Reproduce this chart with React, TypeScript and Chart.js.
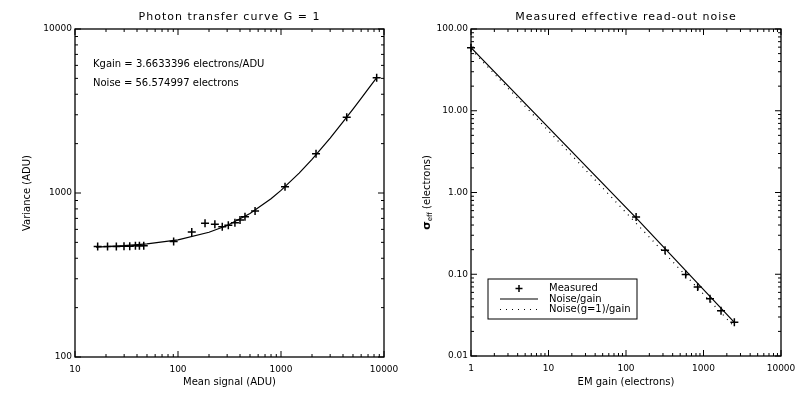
import React, { useEffect, useRef } from "react";
import { Chart, registerables } from "chart.js";

Chart.register(...registerables);

// ---------- Left panel data ----------
const ptcTitle = "Photon transfer curve G = 1";
const ptcXLabel = "Mean signal (ADU)";
const ptcYLabel = "Variance (ADU)";
const ptcXTicks = [10, 100, 1000, 10000];
const ptcXTickLabels = ["10", "100", "1000", "10000"];
const ptcYTicks = [100, 1000, 10000];
const ptcYTickLabels = ["100", "1000", "10000"];
const ptcMean = [16.6, 20.7, 25.2, 29.9, 34, 38.6, 42.2, 46.5, 90.7, 136, 183, 228, 269, 308, 357, 400, 447, 560, 1094, 2188, 4345, 8490];
const ptcVar = [471, 471, 472, 473, 474, 477, 477, 477, 507, 578, 653, 644, 623, 635, 659, 684, 717, 777, 1093, 1738, 2893, 5049];
const fitMean = [16, 20, 30, 50, 100, 200, 300, 500, 800, 1000, 1500, 2000, 3000, 4000, 5000, 6000, 7000, 8500];
const fitVar = [468, 471, 477, 489, 518, 576, 634, 750, 922, 1037, 1322, 1605, 2162, 2710, 3248, 3776, 4293, 5051];
const ptcNotes = ["Kgain = 3.6633396 electrons/ADU", "Noise = 56.574997 electrons"];

// ---------- Right panel data ----------
const rnTitle = "Measured effective read-out noise";
const rnXLabel = "EM gain (electrons)";
const rnXTicks = [1, 10, 100, 1000, 10000];
const rnXTickLabels = ["1", "10", "100", "1000", "10000"];
const rnYTicks = [0.01, 0.1, 1, 10, 100];
const rnYTickLabels = ["0.01", "0.10", "1.00", "10.00", "100.00"];
const gainMeasured = [1, 135, 319, 589, 841, 1213, 1683, 2500];
const sigmaMeasured = [59, 0.5, 0.196, 0.099, 0.07, 0.05, 0.0357, 0.0258];
const gainLine = [1, 135, 2500];
const sigmaLine = [59, 0.49, 0.0258];
const gainDotted = [1, 2500];
const sigmaDotted = [56.6, 0.0228];
const legendLabels = ["Measured", "Noise/gain", "Noise(g=1)/gain"];

const FONT = "'DejaVu Sans', sans-serif";

const pts = (xs: number[], ys: number[]) => xs.map((x, i) => ({ x, y: ys[i] }));

function line(ctx: CanvasRenderingContext2D, x1: number, y1: number, x2: number, y2: number) {
  ctx.beginPath();
  ctx.moveTo(x1, y1);
  ctx.lineTo(x2, y2);
  ctx.stroke();
}

function framePlugin(extra: (chart: any) => void) {
  return {
    id: "frame",
    afterDraw(chart: any) {
      const ctx: CanvasRenderingContext2D = chart.ctx;
      const a = chart.chartArea;
      const xs = chart.scales.x;
      const ys = chart.scales.y;
      ctx.save();
      ctx.strokeStyle = "#000";
      ctx.lineWidth = 1.3;
      ctx.strokeRect(a.left, a.top, a.right - a.left, a.bottom - a.top);
      ctx.lineWidth = 1;
      const ticks = (scale: any, horiz: boolean) => {
        const lo = Math.floor(Math.log10(scale.min));
        const hi = Math.ceil(Math.log10(scale.max));
        for (let d = lo; d <= hi; d++) {
          for (let k = 1; k <= 9; k++) {
            const v = k * Math.pow(10, d);
            if (v < scale.min * 0.999 || v > scale.max * 1.001) continue;
            const p = scale.getPixelForValue(v);
            const len = k === 1 ? 6 : 3;
            if (horiz) {
              line(ctx, p, a.bottom, p, a.bottom - len);
              line(ctx, p, a.top, p, a.top + len);
            } else {
              line(ctx, a.left, p, a.left + len, p);
              line(ctx, a.right, p, a.right - len, p);
            }
          }
        }
      };
      ticks(xs, true);
      ticks(ys, false);
      extra(chart);
      ctx.restore();
    },
  };
}

function baseScales(xMin: number, xMax: number, yMin: number, yMax: number, xT: number[], xL: string[], yT: number[], yL: string[], yWidth: number, xHeight: number) {
  return {
    x: {
      type: "logarithmic",
      min: xMin,
      max: xMax,
      grid: { display: false, drawTicks: false, tickLength: 0 },
      border: { display: false },
      ticks: {
        autoSkip: false,
        maxRotation: 0,
        padding: 7,
        color: "#000",
        font: { family: FONT, size: 9 },
        callback: (v: number) => {
          const i = xT.findIndex((t) => Math.abs(t - v) / t < 1e-6);
          return i >= 0 ? xL[i] : "";
        },
      },
      afterBuildTicks: (s: any) => {
        s.ticks = xT.map((v) => ({ value: v }));
      },
      afterFit: (s: any) => {
        s.height = xHeight;
        s.paddingLeft = 0;
        s.paddingRight = 0;
      },
    },
    y: {
      type: "logarithmic",
      min: yMin,
      max: yMax,
      grid: { display: false, drawTicks: false, tickLength: 0 },
      border: { display: false },
      ticks: {
        autoSkip: false,
        padding: 3,
        color: "#000",
        font: { family: FONT, size: 9 },
        callback: (v: number) => {
          const i = yT.findIndex((t) => Math.abs(t - v) / t < 1e-6);
          return i >= 0 ? yL[i] : "";
        },
      },
      afterBuildTicks: (s: any) => {
        s.ticks = yT.map((v) => ({ value: v }));
      },
      afterFit: (s: any) => {
        s.width = yWidth;
        s.paddingTop = 0;
        s.paddingBottom = 0;
      },
    },
  };
}

function drawTexts(ctx: CanvasRenderingContext2D, a: any, title: string, xLabel: string) {
  ctx.fillStyle = "#000";
  ctx.textAlign = "center";
  ctx.textBaseline = "middle";
  ctx.font = `11px ${FONT}`;
  (ctx as any).letterSpacing = "1px";
  ctx.fillText(title, (a.left + a.right) / 2, 17);
  (ctx as any).letterSpacing = "0px";
  ctx.font = `10px ${FONT}`;
  ctx.fillText(xLabel, (a.left + a.right) / 2, 382);
}

function LeftChart() {
  const ref = useRef<HTMLCanvasElement>(null);
  useEffect(() => {
    const chart = new Chart(ref.current!, {
      type: "scatter",
      data: {
        datasets: [
          {
            label: "Measured",
            data: pts(ptcMean, ptcVar),
            showLine: false,
            pointStyle: "cross",
            pointRadius: 4,
            pointBorderWidth: 1.5,
            borderColor: "#000",
            backgroundColor: "#000",
            clip: false,
          } as any,
          {
            label: "Fit",
            data: pts(fitMean, fitVar),
            showLine: true,
            pointRadius: 0,
            borderWidth: 1.2,
            borderColor: "#000",
            tension: 0,
          } as any,
        ],
      },
      options: {
        animation: false,
        responsive: false,
        devicePixelRatio: 1,
        layout: { padding: { left: 0, right: 18, top: 29, bottom: 0 } },
        plugins: { legend: { display: false }, tooltip: { enabled: false } },
        scales: baseScales(10, 10000, 100, 10000, ptcXTicks, ptcXTickLabels, ptcYTicks, ptcYTickLabels, 75, 40) as any,
      },
      plugins: [
        framePlugin((c: any) => {
          const ctx: CanvasRenderingContext2D = c.ctx;
          const a = c.chartArea;
          drawTexts(ctx, a, ptcTitle, ptcXLabel);
          ctx.save();
          ctx.translate(27, (a.top + a.bottom) / 2);
          ctx.rotate(-Math.PI / 2);
          ctx.fillText(ptcYLabel, 0, 0);
          ctx.restore();
          ctx.textAlign = "left";
          ctx.font = `10px ${FONT}`;
          ctx.fillText(ptcNotes[0], 93, 64);
          ctx.fillText(ptcNotes[1], 93, 83);
        }),
      ],
    });
    return () => chart.destroy();
  }, []);
  return <canvas ref={ref} width={402} height={397} style={{ position: "absolute", left: 0, top: 0 }} />;
}

function RightChart() {
  const ref = useRef<HTMLCanvasElement>(null);
  useEffect(() => {
    const chart = new Chart(ref.current!, {
      type: "scatter",
      data: {
        datasets: [
          {
            label: legendLabels[0],
            data: pts(gainMeasured, sigmaMeasured),
            showLine: false,
            pointStyle: "cross",
            pointRadius: 4,
            pointBorderWidth: 1.5,
            borderColor: "#000",
            backgroundColor: "#000",
            clip: false,
          } as any,
          {
            label: legendLabels[1],
            data: pts(gainLine, sigmaLine),
            showLine: true,
            pointRadius: 0,
            borderWidth: 1.2,
            borderColor: "#000",
          } as any,
          {
            label: legendLabels[2],
            data: pts(gainDotted, sigmaDotted),
            showLine: true,
            pointRadius: 0,
            borderWidth: 1.2,
            borderColor: "#000",
            borderDash: [1, 5],
          } as any,
        ],
      },
      options: {
        animation: false,
        responsive: false,
        devicePixelRatio: 1,
        layout: { padding: { left: 0, right: 23, top: 29, bottom: 0 } },
        plugins: { legend: { display: false }, tooltip: { enabled: false } },
        scales: baseScales(1, 10000, 0.01, 100, rnXTicks, rnXTickLabels, rnYTicks, rnYTickLabels, 69, 41) as any,
      },
      plugins: [
        framePlugin((c: any) => {
          const ctx: CanvasRenderingContext2D = c.ctx;
          const a = c.chartArea;
          drawTexts(ctx, a, rnTitle, rnXLabel);
          // y label with subscript
          ctx.save();
          ctx.translate(25, (a.top + a.bottom) / 2);
          ctx.rotate(-Math.PI / 2);
          ctx.textAlign = "left";
          ctx.textBaseline = "middle";
          const big = `bold 11px ${FONT}`;
          const small = `7px ${FONT}`;
          const norm = `10px ${FONT}`;
          ctx.font = big;
          const w1 = ctx.measureText("σ").width;
          ctx.font = small;
          const w2 = ctx.measureText("eff").width;
          ctx.font = norm;
          const w3 = ctx.measureText(" (electrons)").width;
          let x0 = -(w1 + w2 + w3) / 2;
          ctx.font = big;
          ctx.fillText("σ", x0, 0);
          x0 += w1;
          ctx.font = small;
          ctx.fillText("eff", x0, 3);
          x0 += w2;
          ctx.font = norm;
          ctx.fillText(" (electrons)", x0, 0);
          ctx.restore();
          // legend box
          const bx = 488 - 402, by = 279, bw = 149, bh = 40;
          ctx.lineWidth = 1;
          ctx.strokeStyle = "#000";
          ctx.strokeRect(bx, by, bw, bh);
          const rows = [288.5, 299, 309.5];
          const sx1 = bx + 12, sx2 = bx + 50, tx = bx + 61;
          ctx.lineWidth = 1.5;
          const cx = (sx1 + sx2) / 2;
          line(ctx, cx - 3.5, rows[0], cx + 3.5, rows[0]);
          line(ctx, cx, rows[0] - 3.5, cx, rows[0] + 3.5);
          ctx.lineWidth = 1.2;
          line(ctx, sx1, rows[1], sx2, rows[1]);
          ctx.setLineDash([1, 5]);
          line(ctx, sx1, rows[2], sx2, rows[2]);
          ctx.setLineDash([]);
          ctx.fillStyle = "#000";
          ctx.textAlign = "left";
          ctx.textBaseline = "middle";
          ctx.font = `10px ${FONT}`;
          const ds = c.data.datasets;
          for (let i = 0; i < 3; i++) ctx.fillText(ds[i].label, tx, rows[i]);
        }),
      ],
    });
    return () => chart.destroy();
  }, []);
  return <canvas ref={ref} width={402} height={397} style={{ position: "absolute", left: 402, top: 0 }} />;
}

export default function App() {
  return (
    <div style={{ position: "absolute", left: 0, top: 0, width: 804, height: 397, background: "#fff" }}>
      <LeftChart />
      <RightChart />
    </div>
  );
}
